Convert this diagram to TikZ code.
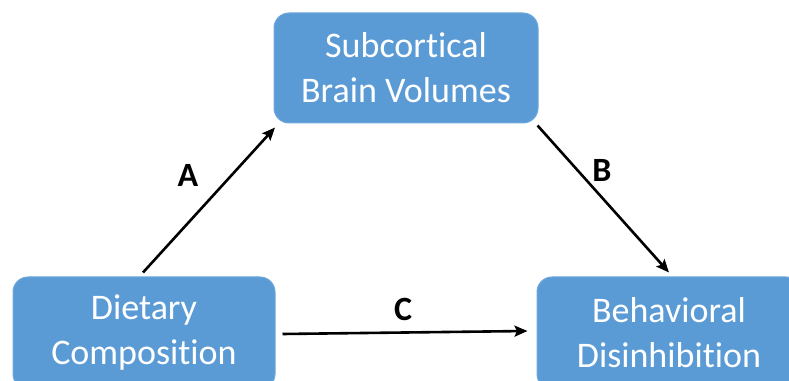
\documentclass[tikz,border=0pt]{standalone}
\usepackage{fontspec}
\setmainfont{Carlito}[Ligatures=NoCommon]
\usetikzlibrary{arrows.meta}
\definecolor{boxblue}{HTML}{5B9BD5}
\definecolor{boxedge}{HTML}{6FA8DC}
\tikzset{
  box/.style={draw=boxedge, line width=1pt, fill=boxblue, rounded corners=15pt,
    text=white, align=center, font=\fontsize{36}{45}\selectfont, inner sep=0pt},
  arr/.style={line width=2.6pt, -{Stealth[length=13pt,width=11pt,inset=2.5pt]}},
  lbl/.style={font=\fontsize{34}{36}\selectfont\bfseries, text=black}
}
\begin{document}
\begin{tikzpicture}[x=1pt,y=1pt]
\useasboundingbox (0,0) rectangle (789,380);
\clip (0,0) rectangle (789,380);
\node[box, minimum width=264pt, minimum height=110pt] (sub) at (406,312) {Subcortical\\Brain Volumes};
\node[box, minimum width=262pt, minimum height=112pt] (diet) at (144,47) {Dietary\\Composition};
\node[box, minimum width=264pt, minimum height=112pt] (beh) at (669,47) {Behavioral\\Disinhibition};
\draw[arr] ([xshift=-1pt,yshift=4pt]diet.north) -- ([xshift=-131pt,yshift=-4pt]sub.south);
\draw[arr] ([xshift=-1pt,yshift=-2pt]sub.south east) -- ([yshift=4pt]beh.north);
\draw[arr] ([xshift=7pt,yshift=-1pt]diet.east) -- ([xshift=-9pt,yshift=2pt]beh.west);
\node[lbl] (la) at (188,205) {A};
\node[lbl] (lb) at (602,210) {B};
\node[lbl] (lc) at (403,71) {C};
\end{tikzpicture}
\end{document}
